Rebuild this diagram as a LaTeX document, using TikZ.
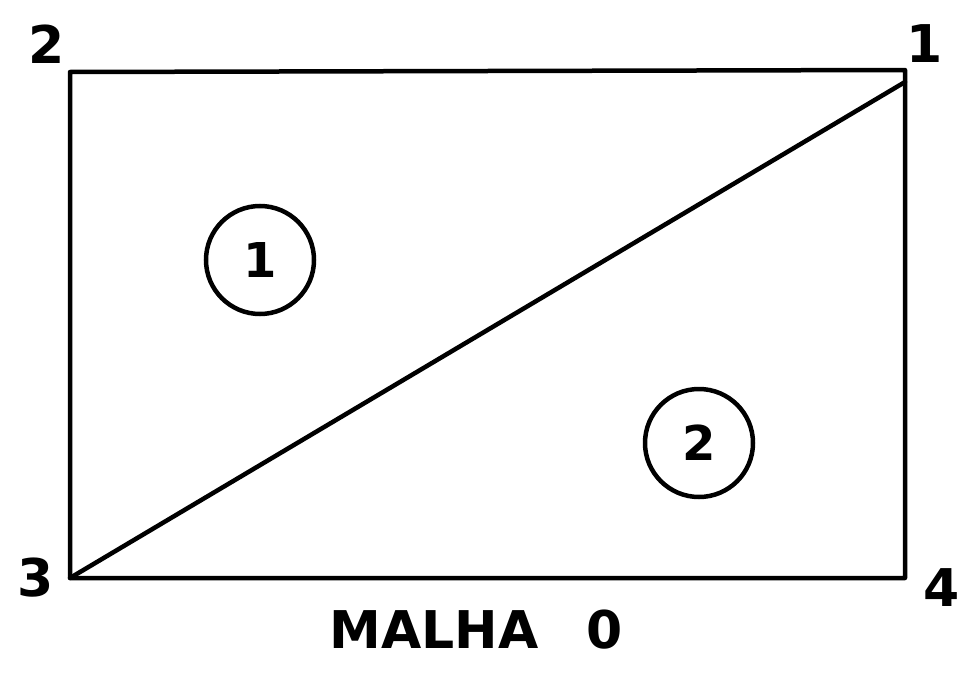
\documentclass[tikz,border=0pt]{standalone}
\usepackage{fontspec}
\setmainfont{DejaVu Sans}
\begin{document}
\begin{tikzpicture}[x=1pt,y=-1pt,
  edge/.style={line width=4.5pt,line cap=round,line join=round},
  lbl/.style={font=\fontsize{52}{52}\selectfont\bfseries,inner sep=0pt},
  elem/.style={circle,draw,line width=4.5pt,minimum size=108pt,inner sep=0pt,font=\fontsize{48}{48}\selectfont\bfseries}]
\useasboundingbox (0,0) rectangle (964,680);
\fill[white] (0,0) rectangle (964,680);
\coordinate (p2) at (70,72);
\coordinate (p1) at (905,70);
\coordinate (p3) at (70,578);
\coordinate (p4) at (905,578);
\coordinate (d1) at (905,82);
\draw[edge] (p2) -- (p1) -- (p4) -- (p3) -- cycle;
\draw[edge] (p3) -- (d1);
\node[lbl] (l2) at (47,44) {2};
\node[lbl] (l1) at (925,44) {1};
\node[lbl] (l3) at (36,578) {3};
\node[lbl] (l4) at (942,588) {4};
\node[elem] (e1) at (260,260) {1};
\node[elem] (e2) at (699,443) {2};
\node[lbl] (title) at (476,630) {MALHA\hspace{48pt}0};
\end{tikzpicture}
\end{document}
